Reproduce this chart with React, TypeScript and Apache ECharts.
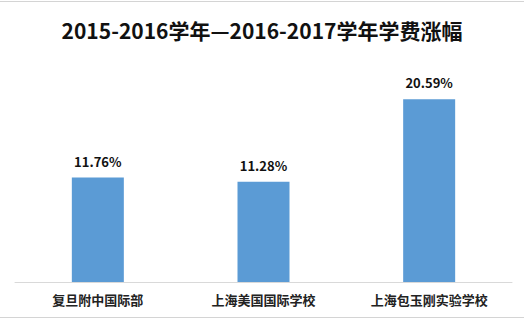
import React, { useEffect, useRef } from "react";
import * as echarts from "echarts";

const categories = ["复旦附中国际部", "上海美国国际学校", "上海包玉刚实验学校"];
const values = [11.76, 11.28, 20.59];
const titleText = "2015-2016学年—2016-2017学年学费涨幅";

export default function App() {
  const ref = useRef<HTMLDivElement>(null);
  useEffect(() => {
    if (!ref.current) return;
    const chart = echarts.init(ref.current, null, { renderer: "svg" });
    const font = "'Noto Sans CJK SC', 'Noto Sans', sans-serif";
    chart.setOption({
      animation: false,
      backgroundColor: "#ffffff",
      title: {
        text: titleText,
        left: "center",
        top: 14,
        textStyle: { fontSize: 21, fontWeight: "bold", color: "#111111", fontFamily: font },
      },
      grid: { left: 15, right: 12, top: 60, bottom: 38 },
      xAxis: {
        type: "category",
        data: categories,
        axisLine: { lineStyle: { color: "#d9d9d9", width: 1 } },
        axisTick: { show: false },
        axisLabel: { fontSize: 13, fontWeight: "bold", color: "#222222", fontFamily: font, margin: 11 },
      },
      yAxis: { type: "value", min: 0, max: 25, show: false, splitLine: { show: false } },
      series: [
        {
          type: "bar",
          data: values,
          barWidth: 52,
          itemStyle: { color: "#5b9bd5" },
          label: {
            show: true,
            position: "top",
            distance: 10,
            formatter: (p: any) => p.value.toFixed(2) + "%",
            fontSize: 13,
            fontWeight: "bold",
            color: "#111111",
            fontFamily: font,
          },
        },
      ],
      graphic: [
        { type: "rect", shape: { x: 0, y: 1, width: 524, height: 1 }, style: { fill: "#d4d4d4" } },
        { type: "rect", shape: { x: 0, y: 317, width: 524, height: 1 }, style: { fill: "#d4d4d4" } },
      ],
    });
    return () => chart.dispose();
  }, []);
  return <div ref={ref} style={{ position: "fixed", left: 0, top: 0, width: 524, height: 320 }} />;
}
